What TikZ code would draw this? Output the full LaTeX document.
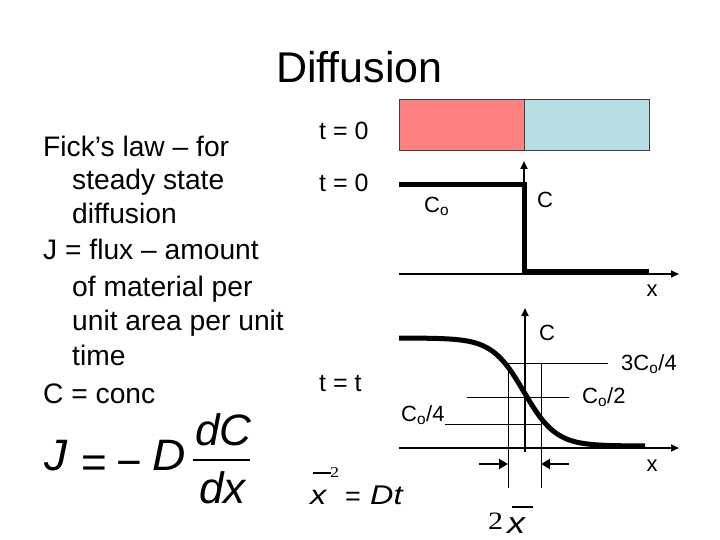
\documentclass[tikz,border=0pt]{standalone}
\usepackage{fontspec}
\setmainfont{Liberation Sans}
\newfontfamily\serifnum{Liberation Serif}
\usetikzlibrary{arrows.meta}
\definecolor{pinkfill}{RGB}{255,128,128}
\definecolor{bluefill}{RGB}{182,222,226}
\newcommand{\setfs}[1]{\fontsize{#1}{#1}\selectfont}
\newcommand{\eqx}[1]{\scalebox{1.05}[1]{#1}}
\newcommand{\eqw}[1]{\scalebox{1.2}[1]{#1}}
\begin{document}
\begin{tikzpicture}[x=1pt,y=-1pt,
  txt/.style={anchor=base west,inner sep=0pt,font=\setfs{28.2}},
  tlab/.style={anchor=base west,inner sep=0pt,font=\setfs{25}},
  lbl/.style={inner sep=0pt,font=\setfs{22}},
  eqf/.style={anchor=base west,inner sep=0pt,font=\setfs{44}\itshape},
  eqs/.style={anchor=base,inner sep=0pt,font=\setfs{44}},
  prof/.style={line width=5pt},
  axis/.style={line width=2pt,-{Triangle[length=8pt,width=7pt]}},
  guide/.style={line width=1pt},
  pointer/.style={line width=2.5pt,-{Triangle[length=9pt,width=10pt]}}]
\useasboundingbox[fill=white] (0,0) rectangle (720,540);

% title
\node[anchor=base west,inner sep=0pt,font=\setfs{43}] (title) at (276,83) {Diffusion};

% left text
\node[txt] (l1) at (43,157) {Fick’s law – for};
\node[txt] (l2) at (72,190) {steady state};
\node[txt] (l3) at (72,223) {diffusion};
\node[txt] (l4) at (43,259) {J = flux – amount};
\node[txt] (l5) at (72,296) {of material per};
\node[txt] (l6) at (72,330) {unit area per unit};
\node[txt] (l7) at (72,365) {time};
\node[txt] (l8) at (43,403) {C = conc};

% Fick equation
\node[eqf] (eqJ) at (44,470) {\eqx{J}};
\node[eqs] (eqEq) at (94,477) {=};
\node[eqs] (eqMinus) at (129,477) {−};
\node[eqf] (eqD) at (152,470) {\eqx{D}};
\node[eqf] (eqdC) at (195,445) {dC};
\node[eqf] (eqdx) at (199,503) {dx};
\coordinate (fbL) at (193,460);
\coordinate (fbR) at (250,460);
\draw[line width=1.5pt] (fbL) -- (fbR);

% time labels
\node[tlab] (t0a) at (319,140) {t = 0};
\node[tlab] (t0b) at (319,192) {t = 0};
\node[tlab] (tt) at (319,391) {t = t};

% bars
\draw[draw=black!75,line width=0.8pt,fill=pinkfill] (399,99) rectangle (524,150);
\draw[draw=black!75,line width=0.8pt,fill=bluefill] (524,99) rectangle (649,150);

% graph 1
\coordinate (a1L) at (399,274);
\coordinate (a1R) at (679,274);
\coordinate (v1B) at (524,274);
\coordinate (v1T) at (524,161);
\draw[axis] (a1L) -- (a1R);
\draw[axis] (v1B) -- (v1T);
\coordinate (p1) at (399,185);
\coordinate (p2) at (524,185);
\coordinate (p3) at (524,271);
\coordinate (p4) at (649,271);
\draw[prof,line join=miter] (p1) -- (p2) -- (p3) -- (p4);
\node[lbl] (c1) at (545,200) {C};
\node[lbl,anchor=west] (co1) at (424,206) {C\textsubscript{o}};
\node[lbl] (x1) at (652,291) {x};

% graph 2
\coordinate (a2L) at (399,448);
\coordinate (a2R) at (679,448);
\coordinate (v2B) at (525,452);
\coordinate (v2T) at (525,308);
\draw[axis] (a2L) -- (a2R);
\draw[axis] (v2B) -- (v2T);
\draw[prof,line cap=butt] plot[domain=399:645,samples=120,smooth] (\x,{446-54*(1-tanh((\x-524)/32))});
\coordinate (h3L) at (508,363); \coordinate (h3R) at (608,363);
\coordinate (h2L) at (467,397); \coordinate (h2R) at (569,397);
\coordinate (h1L) at (445,424); \coordinate (h1R) at (541,424);
\coordinate (vLT) at (508,363); \coordinate (vLB) at (508,488);
\coordinate (vRT) at (541,363); \coordinate (vRB) at (541,488);
\draw[guide] (h3L) -- (h3R);
\draw[guide] (h2L) -- (h2R);
\draw[guide] (h1L) -- (h1R);
\draw[guide] (vLT) -- (vLB);
\draw[guide] (vRT) -- (vRB);
\coordinate (arLs) at (479,464); \coordinate (arLe) at (508,464);
\coordinate (arRs) at (569,464); \coordinate (arRe) at (541,464);
\draw[pointer] (arLs) -- (arLe);
\draw[pointer] (arRs) -- (arRe);
\node[lbl] (c2) at (547,333) {C};
\node[lbl,anchor=west] (q3) at (621,364) {3C\textsubscript{o}/4};
\node[lbl,anchor=west] (q2) at (582,397) {C\textsubscript{o}/2};
\node[lbl,anchor=west] (q1) at (401,415) {C\textsubscript{o}/4};
\node[lbl] (x2) at (652,466) {x};

% mean square displacement
\node[anchor=base west,inner sep=0pt,font=\setfs{27}\itshape] (xb) at (310,504) {\eqw{x}};
\coordinate (xbL) at (313,473); \coordinate (xbR) at (331,473);
\draw[line width=1.3pt] (xbL) -- (xbR);
\node[anchor=base west,inner sep=0pt,font=\setfs{15}\serifnum] (sq) at (330,477) {\eqw{2}};
\node[anchor=base west,inner sep=0pt,font=\setfs{27}] (eq2) at (345,505) {=};
\node[anchor=base west,inner sep=0pt,font=\setfs{27}\itshape] (dt) at (370,504) {\eqw{Dt}};
\node[anchor=base west,inner sep=0pt,font=\setfs{25}\serifnum] (two) at (488,529) {\eqw{2}};
\node[anchor=base west,inner sep=0pt,font=\setfs{30}\itshape] (x2b) at (507,533) {\eqw{x}};
\coordinate (x2bL) at (512,507); \coordinate (x2bR) at (533,507);
\draw[line width=1.3pt] (x2bL) -- (x2bR);
\end{tikzpicture}
\end{document}
